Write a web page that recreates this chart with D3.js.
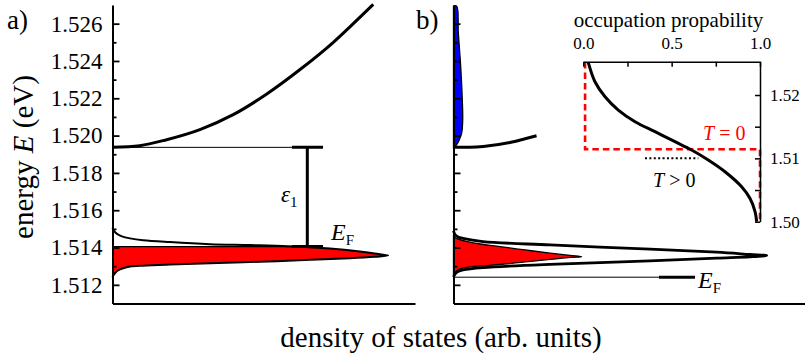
<!DOCTYPE html>
<html><head><meta charset="utf-8">
<script src="https://cdn.jsdelivr.net/npm/d3@7"></script>
<style>
body{margin:0;background:#fff}
svg{display:block}
</style>
</head><body>
<svg id="c" width="805" height="358"></svg>
<script>
// ---------- data ----------
const energyTicks = [1.512, 1.514, 1.516, 1.518, 1.520, 1.522, 1.524, 1.526];
const energyMinorTicks = [1.513, 1.515, 1.517, 1.519, 1.521, 1.523, 1.525];
const E1 = 1.51937;      // first subband edge
const EF_a = 1.51405;    // Fermi level panel a
const EF_b = 1.51241;    // Fermi level panel b
// panel a: [dos, E]
const bandA = [[0,1.51937],[9,1.51946],[17.9,1.51978],[28.9,1.52032],[39.9,1.52112],[51.0,1.52223],[62.0,1.52354],[73.0,1.52500],[78.5,1.52583],[86.2,1.52703]];
const dosA = [[0,1.51505],[0.5,1.51489],[1.5,1.51473],[3.1,1.51460],[5.8,1.51449],[10.1,1.51439],[19.0,1.51429],[32.2,1.51418],[45.5,1.51413],[58.0,1.51407],[71.9,1.51395],[81.8,1.51379],[88.4,1.51364],[91.1,1.51357],
  [86.8,1.51351],[78.5,1.51343],[65.3,1.51334],[48.8,1.51324],[32.2,1.51316],[19.0,1.51309],[10.1,1.51303],[5.8,1.51298],[3.5,1.51289],[1.8,1.51277],[0.8,1.51262],[0.2,1.51248],[0,1.51240]];
// panel b: [dos, E]
const blueB = [[0,1.52694],[1.06,1.52694],[1.59,1.52552],[2.38,1.52371],[2.91,1.52193],[3.05,1.52085],[2.72,1.52015],[1.92,1.51978],[1.06,1.51951],[0.17,1.51933],[0,1.51933]];
const bandB = [[0,1.51937],[5.46,1.51938],[9.87,1.51942],[18.7,1.51963],[23.7,1.51983],[27.5,1.51999]];
const redB = [[0,1.51468],[0.5,1.51454],[1.82,1.51444],[4.37,1.51433],[8.77,1.51419],[15.4,1.51405],[23.7,1.51387],[31.95,1.51370],[38.6,1.51358],[42.45,1.51351],
  [38.6,1.51347],[31.95,1.51336],[23.7,1.51323],[15.4,1.51309],[8.77,1.51301],[4.37,1.51293],[1.82,1.51283],[0.5,1.51266],[0,1.51250]];
const dosB = [[0,1.51489],[0.5,1.51470],[1.49,1.51457],[3.15,1.51449],[9.77,1.51432],[31.95,1.51414],[65.07,1.51391],[87.15,1.51375],[98.18,1.51363],[103.7,1.51357],
  [98.18,1.51350],[87.15,1.51343],[65.07,1.51328],[31.95,1.51310],[9.77,1.51292],[3.15,1.51280],[1.49,1.51271],[0.5,1.51258],[0,1.51242]];
// inset: [occupation, E]
const occTicks = [0, 0.5, 1.0];
const occMinorTicks = [0.25, 0.75];
const insetETicks = [1.50, 1.51, 1.52];
const insetEMinorTicks = [1.505, 1.515];
const fermiT = [[0.028,1.52516],[0.066,1.52210],[0.123,1.51973],[0.198,1.51763],[0.293,1.51579],[0.406,1.51421],[0.519,1.51263],[0.613,1.51132],[0.707,1.50974],[0.802,1.50789],[0.896,1.50552],[0.943,1.50369],[0.972,1.50158],[0.981,1.5]];
const fermiT0 = [[0.01,1.5252],[0.01,1.51143],[1,1.51143],[1,1.5]];
const muLine = [[0.349,1.51],[0.651,1.51]];

const FONT = '"Liberation Serif"';

// ---------- scales ----------
const svg = d3.select("#c");
const yE = d3.scaleLinear().domain([1.511, 1.527]).range([303.5, 5]);
const xA = d3.scaleLinear().domain([0, 100]).range([112.5, 415]);
const xB = d3.scaleLinear().domain([0, 116.4]).range([453.5, 805]);
const xF = d3.scaleLinear().domain([0, 1]).range([583.3, 760]);
const yF = d3.scaleLinear().domain([1.5, 1.52526]).range([221.7, 61.7]);

const smooth = d3.curveCatmullRom.alpha(0.5);
const lineA = d3.line().x(d => xA(d[0])).y(d => yE(d[1])).curve(smooth);
const lineB = d3.line().x(d => xB(d[0])).y(d => yE(d[1])).curve(smooth);

function txt(x, y, size) {
  return svg.append("text").attr("x", x).attr("y", y)
    .style("font-family", FONT).style("font-size", size + "px");
}

// clip below Fermi level panel a
svg.append("clipPath").attr("id","belowEFa").append("rect")
  .attr("x",0).attr("width",805).attr("y",yE(EF_a)).attr("height",358);

// ---------- panel a ----------
svg.append("path").attr("d", lineA(dosA) + "Z")
  .attr("fill","#ff0000").attr("stroke","none").attr("clip-path","url(#belowEFa)");
svg.append("line").attr("x1",xA(0)).attr("x2",xA(59.3)).attr("y1",yE(EF_a)).attr("y2",yE(EF_a))
  .attr("stroke","#000").attr("stroke-width",1.3);
svg.append("path").attr("d", lineA(dosA)).attr("fill","none").attr("stroke","#000").attr("stroke-width",2);
svg.append("path").attr("d", d3.line().x(d=>xA(d[0])).y(d=>yE(d[1])).curve(d3.curveMonotoneX)(bandA))
  .attr("fill","none").attr("stroke","#000").attr("stroke-width",3);
svg.append("line").attr("x1",xA(0)).attr("x2",xA(59.3)).attr("y1",yE(E1)).attr("y2",yE(E1))
  .attr("stroke","#000").attr("stroke-width",1);
[E1, EF_a].forEach(e => svg.append("line").attr("x1",xA(59.3)).attr("x2",xA(69.6)).attr("y1",yE(e)).attr("y2",yE(e))
  .attr("stroke","#000").attr("stroke-width",3));
svg.append("line").attr("x1",xA(64.4)).attr("x2",xA(64.4)).attr("y1",yE(E1)).attr("y2",yE(EF_a))
  .attr("stroke","#000").attr("stroke-width",3);
const eps = txt(281, 202, 23);
eps.append("tspan").style("font-style","italic").text("ε");
eps.append("tspan").style("font-size","15px").attr("dy",5).text("1");
const efa = txt(331, 240, 24);
efa.append("tspan").style("font-style","italic").text("E");
efa.append("tspan").style("font-size","15px").attr("dy",5).text("F");

// axes panel a
const gA = svg.append("g").attr("transform",`translate(${xA(0)},0)`);
gA.call(d3.axisLeft(yE).tickValues(energyTicks).tickSize(-7).tickSizeOuter(0).tickPadding(10).tickFormat(d3.format(".3f")));
gA.selectAll("text").style("font-family",FONT).style("font-size","23px");
const gAm = svg.append("g").attr("transform",`translate(${xA(0)},0)`);
gAm.call(d3.axisLeft(yE).tickValues(energyMinorTicks).tickSize(-4).tickFormat(""));
gAm.select(".domain").remove();
svg.append("g").attr("transform",`translate(0,${yE(1.511)})`)
  .call(d3.axisBottom(xA).tickValues([]).tickSizeOuter(0));

// ---------- panel b ----------
svg.append("path").attr("d", lineB(blueB)+"Z")
  .attr("fill","#0000ff").attr("stroke","#000").attr("stroke-width",1.3);
svg.append("path").attr("d", d3.line().x(d=>xB(d[0])).y(d=>yE(d[1])).curve(d3.curveMonotoneX)(bandB))
  .attr("fill","none").attr("stroke","#000").attr("stroke-width",3);
svg.append("path").attr("d", lineB(redB)+"Z").attr("fill","#ff0000").attr("stroke","#000").attr("stroke-width",1.3);
svg.append("path").attr("d", lineB(dosB)).attr("fill","none").attr("stroke","#000").attr("stroke-width",2.8);
svg.append("line").attr("x1",xB(0)).attr("x2",xB(68.05)).attr("y1",yE(EF_b)).attr("y2",yE(EF_b))
  .attr("stroke","#000").attr("stroke-width",1);
svg.append("line").attr("x1",xB(68.05)).attr("x2",xB(79.97)).attr("y1",yE(EF_b)).attr("y2",yE(EF_b))
  .attr("stroke","#000").attr("stroke-width",3);
const efb = txt(698, 288, 24);
efb.append("tspan").style("font-style","italic").text("E");
efb.append("tspan").style("font-size","15px").attr("dy",5).text("F");

const gB = svg.append("g").attr("transform",`translate(${xB(0)},0)`);
gB.call(d3.axisLeft(yE).tickValues(energyTicks).tickSize(-7).tickSizeOuter(0).tickFormat(""));
const gBm = svg.append("g").attr("transform",`translate(${xB(0)},0)`);
gBm.call(d3.axisLeft(yE).tickValues(energyMinorTicks).tickSize(-4).tickFormat(""));
gBm.select(".domain").remove();
svg.append("g").attr("transform",`translate(0,${yE(1.511)})`)
  .call(d3.axisBottom(xB).tickValues([]).tickSizeOuter(0));

// ---------- inset ----------
svg.append("path").attr("d", d3.line().x(d=>xF(d[0])).y(d=>yF(d[1]))(fermiT0)).attr("fill","none").attr("stroke","#ff0000")
  .attr("stroke-width",2.6).attr("stroke-dasharray","6.5,4");
svg.append("path").attr("d", d3.line().x(d=>xF(d[0])).y(d=>yF(d[1])).curve(smooth)(fermiT)).attr("fill","none").attr("stroke","#000").attr("stroke-width",3);
svg.append("path").attr("d", d3.line().x(d=>xF(d[0])).y(d=>yF(d[1]))(muLine)).attr("fill","none").attr("stroke","#000")
  .attr("stroke-width",2).attr("stroke-dasharray","2,2.4");
const gT = svg.append("g").attr("transform",`translate(0,${yF(1.52526)})`);
gT.call(d3.axisTop(xF).tickValues(occTicks).tickSize(-5).tickSizeOuter(0).tickPadding(13).tickFormat(d3.format(".1f")));
gT.selectAll("text").style("font-family",FONT).style("font-size","17px");
const gTm = svg.append("g").attr("transform",`translate(0,${yF(1.52526)})`);
gTm.call(d3.axisTop(xF).tickValues(occMinorTicks).tickSize(-5).tickFormat(""));
gTm.select(".domain").remove();
const gR = svg.append("g").attr("transform",`translate(${xF(1)},0)`);
gR.call(d3.axisRight(yF).tickValues(insetETicks).tickSize(-5).tickSizeOuter(0).tickPadding(10).tickFormat(d3.format(".2f")));
gR.selectAll("text").style("font-family",FONT).style("font-size","17px");
const gRm = svg.append("g").attr("transform",`translate(${xF(1)},0)`);
gRm.call(d3.axisRight(yF).tickValues(insetEMinorTicks).tickSize(-5).tickFormat(""));
gRm.select(".domain").remove();
txt(668.5, 27, 21).attr("text-anchor","middle").text("occupation propability");
const t0 = txt(703, 140, 20).style("fill","#ff0000");
t0.append("tspan").style("font-style","italic").text("T");
t0.append("tspan").text(" = 0");
const t1 = txt(653, 186.5, 20).style("fill","#000");
t1.append("tspan").style("font-style","italic").text("T");
t1.append("tspan").text(" > 0");

// axis styling
svg.selectAll(".tick text").attr("fill","#000");
svg.selectAll(".domain").attr("stroke","#000").attr("stroke-width",2);
svg.selectAll(".tick line").attr("stroke","#000").attr("stroke-width",1.8);
[gT, gR, gTm, gRm].forEach(g => { g.selectAll(".domain").attr("stroke-width",1.5); g.selectAll(".tick line").attr("stroke-width",1.5); });

// ---------- labels ----------
txt(7, 29, 27).text("a)");
txt(416, 29, 27).text("b)");
const yl = svg.append("text").attr("transform","translate(33,157) rotate(-90)").attr("text-anchor","middle")
  .style("font-family",FONT).style("font-size","29px");
yl.append("tspan").text("energy ");
yl.append("tspan").style("font-style","italic").text("E");
yl.append("tspan").text(" (eV)");
txt(441, 347, 29).attr("text-anchor","middle").text("density of states (arb. units)");
</script>
</body></html>
